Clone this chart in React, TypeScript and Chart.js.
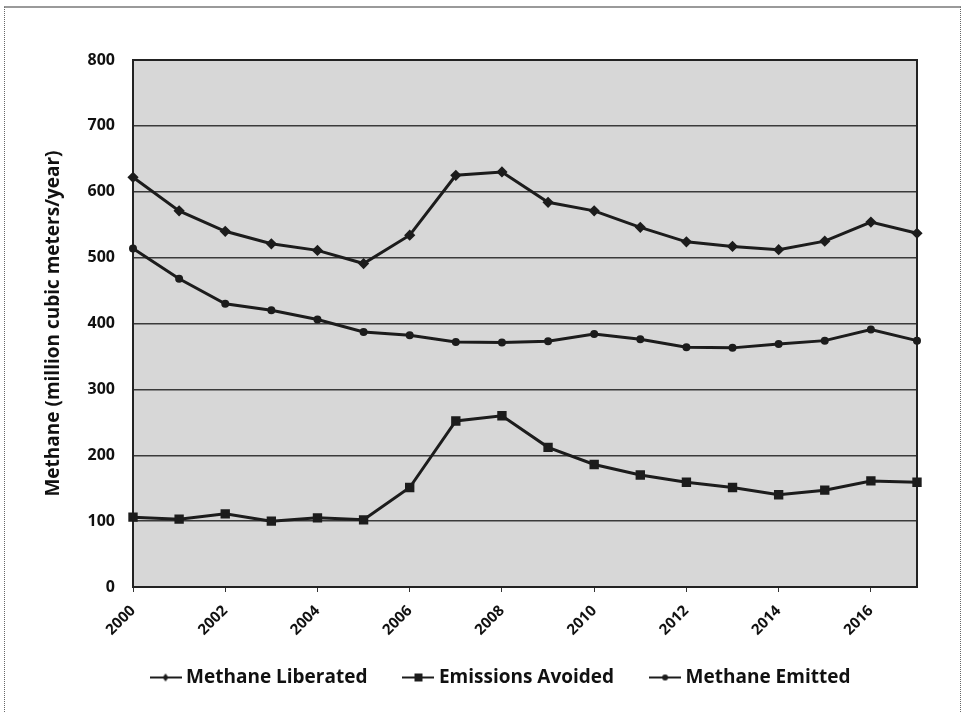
import React, { useEffect, useRef } from "react";
import { Chart, registerables } from "chart.js";
Chart.register(...registerables);

const years = ["2000","2001","2002","2003","2004","2005","2006","2007","2008","2009","2010","2011","2012","2013","2014","2015","2016","2017"];
const liberated = [622, 571, 540, 521, 511, 491, 534, 625, 630, 584, 571, 546, 524, 517, 512, 525, 554, 537];
const avoided = [106, 103, 111, 100, 105, 102, 151, 252, 260, 212, 186, 170, 159, 151, 140, 147, 161, 159];
const emitted = [514, 468, 430, 420, 406, 387, 382, 372, 371, 373, 384, 376, 364, 363, 369, 374, 391, 374];
const seriesNames = ["Methane Liberated", "Emissions Avoided", "Methane Emitted"];
const yMin = 0;
const yMax = 800;
const yStep = 100;
const yTitle = "Methane (million cubic meters/year)";

const FONT = "'Open Sans', Lato, sans-serif";
const LINE = "#1c1c1c";
const LEGEND_SHIFT_X = 44;
const LEGEND_SHIFT_Y = -9;

function makeIcon(kind: string): HTMLCanvasElement {
  const c = document.createElement("canvas");
  c.width = 32;
  c.height = 12;
  const ctx = c.getContext("2d")!;
  ctx.strokeStyle = LINE;
  ctx.fillStyle = LINE;
  ctx.lineWidth = 2;
  ctx.beginPath();
  ctx.moveTo(0, 6);
  ctx.lineTo(32, 6);
  ctx.stroke();
  if (kind === "rect") {
    ctx.fillRect(12, 2, 8, 8);
  } else if (kind === "diamond") {
    ctx.beginPath();
    ctx.moveTo(16, 2);
    ctx.lineTo(19, 6);
    ctx.lineTo(16, 10);
    ctx.lineTo(13, 6);
    ctx.closePath();
    ctx.fill();
  } else {
    ctx.beginPath();
    ctx.arc(16, 6, 3, 0, Math.PI * 2);
    ctx.fill();
  }
  return c;
}

const bgPlugin = {
  id: "plotBg",
  afterLayout(chart: any) {
    const lg = chart.legend;
    if (lg) {
      lg.left += LEGEND_SHIFT_X;
      lg.right += LEGEND_SHIFT_X;
      lg.top += LEGEND_SHIFT_Y;
      lg.bottom += LEGEND_SHIFT_Y;
    }
  },
  beforeDraw(chart: any) {
    const { ctx, chartArea } = chart;
    if (!chartArea) return;
    ctx.save();
    ctx.fillStyle = "#d7d7d7";
    ctx.fillRect(chartArea.left, chartArea.top, chartArea.right - chartArea.left, chartArea.bottom - chartArea.top);
    ctx.restore();
  },
  beforeDatasetsDraw(chart: any) {
    const { ctx, chartArea } = chart;
    ctx.save();
    ctx.strokeStyle = "#222";
    ctx.lineWidth = 2;
    ctx.strokeRect(chartArea.left, chartArea.top, chartArea.right - chartArea.left, chartArea.bottom - chartArea.top);
    ctx.restore();
  },
};

export default function App() {
  const ref = useRef<HTMLCanvasElement>(null);
  useEffect(() => {
    if (!ref.current) return;
    const icons = [makeIcon("diamond"), makeIcon("rect"), makeIcon("circle")];
    const chart = new Chart(ref.current, {
      type: "line",
      data: {
        labels: years,
        datasets: [
          { label: seriesNames[0], data: liberated, borderColor: LINE, backgroundColor: LINE, borderWidth: 3, pointStyle: "rectRot", pointRadius: 3.5, tension: 0 },
          { label: seriesNames[1], data: avoided, borderColor: LINE, backgroundColor: LINE, borderWidth: 3, pointStyle: "rect", pointRadius: 4.5, tension: 0 },
          { label: seriesNames[2], data: emitted, borderColor: LINE, backgroundColor: LINE, borderWidth: 3, pointStyle: "circle", pointRadius: 2.5, tension: 0 },
        ],
      },
      options: {
        responsive: false,
        animation: false,
        devicePixelRatio: 1,
        layout: { padding: { top: 60, right: 48, left: 0, bottom: 6 } },
        plugins: {
          tooltip: { enabled: false },
          legend: {
            position: "bottom",
            labels: {
              usePointStyle: true,
              pointStyleWidth: 22,
              color: "#111",
              padding: 40,
              font: { family: FONT, size: 19, weight: "bold" },
              generateLabels: (chart: any) => {
                const base = Chart.defaults.plugins.legend.labels.generateLabels(chart);
                return base.map((l: any, i: number) => ({ ...l, pointStyle: icons[i] }));
              },
            },
          },
        },
        scales: {
          x: {
            type: "category",
            offset: false,
            border: { display: false },
            grid: {
              drawOnChartArea: false,
              drawTicks: true,
              tickLength: 5,
              color: (ctx: any) => (ctx.index % 2 === 0 ? "#333" : "rgba(0,0,0,0)"),
            },
            ticks: {
              autoSkip: false,
              maxRotation: 45,
              minRotation: 45,
              padding: 10,
              color: "#111",
              font: { family: FONT, size: 15, weight: "bold" },
              callback: (_v: any, i: number) => (i % 2 === 0 ? years[i] : ""),
            },
            afterFit: (s: any) => { s.height = 50; },
          },
          y: {
            min: yMin,
            max: yMax,
            border: { display: false },
            grid: { color: "#3a3a3a", lineWidth: 1.5, drawTicks: false },
            ticks: {
              stepSize: yStep,
              padding: 18,
              color: "#111",
              font: { family: FONT, size: 16, weight: "bold" },
            },
            title: {
              display: true,
              text: yTitle,
              color: "#111",
              padding: { top: 42, bottom: 0 },
              font: { family: FONT, size: 19, weight: "bold" },
            },
            afterFit: (s: any) => { s.width = 133; },
          },
        },
      },
      plugins: [bgPlugin],
    });
    return () => chart.destroy();
  }, []);
  return (
    <div style={{ position: "fixed", left: 0, top: 0, width: 965, height: 712, background: "#fff" }}>
      <div style={{ position: "absolute", left: 4, top: 6, width: 957, height: 720, borderTop: "2px solid #9a9a9a", borderLeft: "1px dotted #666", borderRight: "1px dotted #666", boxSizing: "border-box" }} />
      <canvas ref={ref} width={965} height={712} style={{ position: "absolute", left: 0, top: 0, display: "block" }} />
    </div>
  );
}
